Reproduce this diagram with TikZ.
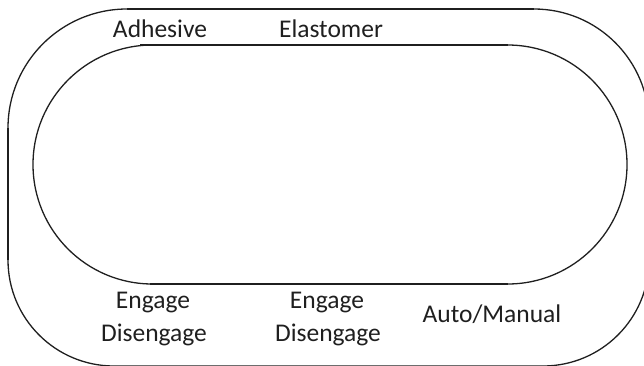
\documentclass[tikz,border=0pt]{standalone}
\usepackage{fontspec}
\setmainfont{Carlito}
\begin{document}
\begin{tikzpicture}[x=1pt,y=-1pt,
  curve/.style={line width=1.3pt, draw=black!88},
  straight/.style={line width=1.9pt, draw=black!88, line cap=butt},
  word/.style={font=\fontsize{25.5}{30}\selectfont, text=black!88, inner sep=0pt, anchor=base}]
\useasboundingbox (0,0) rectangle (644,365);
\clip (0,0) rectangle (644,365);

% outer rounded frame (its right and bottom sides run past the page edge)
\draw[curve] (8,128) arc (180:270:119) -- (534,9) arc (270:360:115)
  -- (649,260) arc (0:90:106) -- (114,366) arc (90:180:106) -- cycle;
\draw[straight] (127,9) -- (534,9);
\draw[straight] (8,128) -- (8,260);

% inner stadium track
\draw[curve] (152.5,45) -- (507.5,45) arc (270:450:119.5)
  -- (152.5,284) arc (90:270:119.5) -- cycle;
\draw[straight] (140,45) -- (507.5,45);
\draw[straight] (150,284) -- (507.5,284);

% labels
\node[word] (adh) at (160,37) {Adhesive};
\node[word] (ela) at (331,37) {Elastomer};
\node[word] (eng1) at (153,308) {Engage};
\node[word] (dis1) at (154,341) {Disengage};
\node[word] (eng2) at (327,308) {Engage};
\node[word] (dis2) at (328,341) {Disengage};
\node[word] (auto) at (492,322) {Auto/Manual};
\end{tikzpicture}
\end{document}
